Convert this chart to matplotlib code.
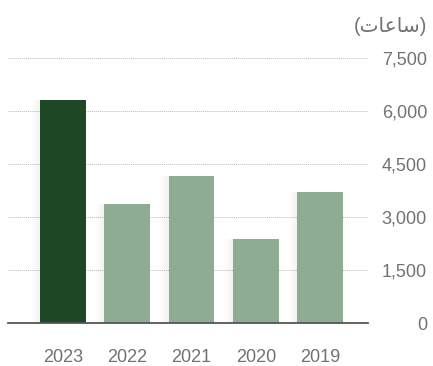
import matplotlib
matplotlib.use("Agg")
import matplotlib.pyplot as plt
from matplotlib.patches import Rectangle

# Training hours per year (displayed right-to-left: newest first)
years = ["2023", "2022", "2021", "2020", "2019"]
hours = [6300, 3370, 4160, 2380, 3710]
bar_colors = ["#1d4725", "#8dac91", "#8dac91", "#8dac91", "#8dac91"]
y_ticks = [0, 1500, 3000, 4500, 6000, 7500]
y_tick_labels = ["0", "1,500", "3,000", "4,500", "6,000", "7,500"]
# "(ساعات)" as shaped glyphs in visual left-to-right order
unit_label = "(\uFE95\uFE8E\uFECB\uFE8E\uFEB3)"

plt.rcParams["font.family"] = ["Liberation Sans", "DejaVu Sans"]
text_color = "#727272"

W, H = 433, 366
fig = plt.figure(figsize=(W / 100, H / 100), dpi=100)
ax = fig.add_axes([8 / W, (H - 323) / H, 360 / W, 265 / H])

x = list(range(len(years)))
bars = ax.bar(x, hours, width=0.715, color=bar_colors, zorder=3)

# soft shadow on the left side of each bar
n_steps = 8
shadow_w = 0.13
for b in bars:
    x0 = b.get_x()
    h = b.get_height()
    for i in range(n_steps):
        frac = (i + 1) / n_steps
        ax.add_patch(Rectangle((x0 - shadow_w * frac, 0), shadow_w / n_steps, h,
                               facecolor="#4a6a50", alpha=0.07 * (n_steps - i) / n_steps,
                               linewidth=0, zorder=2))

ax.set_xlim(-0.855, 4.746)
ax.set_ylim(0, 7500)

ax.set_yticks(y_ticks)
ax.set_yticklabels(y_tick_labels)
ax.yaxis.tick_right()
ax.tick_params(axis="y", length=0, pad=42.5, labelsize=13, labelcolor=text_color)
for lbl in ax.get_yticklabels():
    lbl.set_horizontalalignment("right")

ax.set_xticks(x)
ax.set_xticklabels(years)
ax.tick_params(axis="x", length=0, pad=19, labelsize=13, labelcolor=text_color)

ax.grid(axis="y", linestyle=(0, (1.0, 1.0)), color="#bdbdbd", linewidth=0.7, zorder=1)
ax.grid(axis="x", visible=False)

for side in ["top", "right", "left"]:
    ax.spines[side].set_visible(False)
ax.spines["bottom"].set_color("#555555")
ax.spines["bottom"].set_linewidth(1.3)
ax.spines["bottom"].set_zorder(4)

fig.text(427 / W, 1 - 26 / H, unit_label, ha="right", va="center",
         fontsize=14.5, color=text_color)

fig.savefig("out.png", dpi=100)
